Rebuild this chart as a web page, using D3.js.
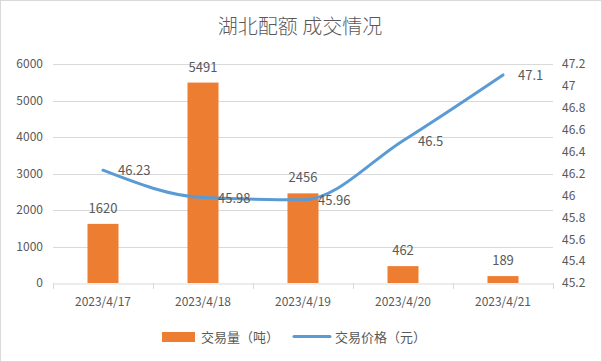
<!DOCTYPE html>
<html>
<head>
<meta charset="utf-8">
<script src="https://cdn.jsdelivr.net/npm/d3@7"></script>
<style>
  body { margin: 0; background: #fff; }
  text { font-family: "Noto Sans CJK SC", "Noto Sans", sans-serif; fill: #595959; }
</style>
</head>
<body>
<div id="chart"></div>
<script>
var dates = ['2023/4/17', '2023/4/18', '2023/4/19', '2023/4/20', '2023/4/21']
var volume = [1620, 5491, 2456, 462, 189]
var price = [46.23, 45.98, 45.96, 46.5, 47.1]
var leftTicks = [0, 1000, 2000, 3000, 4000, 5000, 6000]
var rightTicks = [45.2, 45.4, 45.6, 45.8, 46, 46.2, 46.4, 46.6, 46.8, 47, 47.2]

var width = 602, height = 362,
    margin = {top: 64, bottom: 79, left: 53, right: 49}

var barColor = '#ED7D31', lineColor = '#5B9BD5', gridColor = '#d9d9d9'

var svg = d3.select('#chart').append('svg').attr('width', width).attr('height', height)

// 外框
svg.append('rect').attr('x', 0.5).attr('y', 0.5).attr('width', width - 1).attr('height', height - 1)
  .attr('fill', '#fff').attr('stroke', gridColor)

var x = d3.scaleBand().domain(dates).range([margin.left, width - margin.right])
var yL = d3.scaleLinear().domain([0, 6000]).range([height - margin.bottom, margin.top])
var yR = d3.scaleLinear().domain([45.2, 47.2]).range([height - margin.bottom, margin.top])

// 标题
svg.append('text').attr('x', 300).attr('y', 34).attr('text-anchor', 'middle')
  .attr('font-size', 20).attr('font-weight', 300).text('湖北配额 成交情况')

// 网格线
svg.append('g').selectAll('line').data(leftTicks.slice(1)).enter().append('line')
  .attr('x1', margin.left).attr('x2', width - margin.right)
  .attr('y1', d => Math.round(yL(d)) + 0.5).attr('y2', d => Math.round(yL(d)) + 0.5)
  .attr('stroke', gridColor)

// 左轴
var axisL = d3.axisLeft(yL).tickValues(leftTicks).tickSize(0).tickPadding(10).tickFormat(d3.format('d'))
var gL = svg.append('g').attr('transform', 'translate(' + margin.left + ',0)').call(axisL)
gL.select('.domain').remove()
gL.selectAll('text').attr('font-size', 12).attr('fill', '#595959')

// 右轴
var axisR = d3.axisRight(yR).tickValues(rightTicks).tickSize(0).tickPadding(9).tickFormat(d3.format('~g'))
var gR = svg.append('g').attr('transform', 'translate(' + (width - margin.right) + ',0)').call(axisR)
gR.select('.domain').remove()
gR.selectAll('text').attr('font-size', 12).attr('fill', '#595959')

// x轴
var axisB = d3.axisBottom(x).tickSize(0).tickPadding(14)
var gB = svg.append('g').attr('transform', 'translate(0,' + (Math.round(yL(0)) + 0.5) + ')').call(axisB)
gB.select('.domain').attr('stroke', gridColor)
gB.selectAll('text').attr('font-size', 12).attr('fill', '#595959')
// 分隔刻度
var bounds = dates.map(d => x(d)).concat([width - margin.right])
svg.append('g').selectAll('line').data(bounds).enter().append('line')
  .attr('x1', d => Math.round(d) + 0.5).attr('x2', d => Math.round(d) + 0.5)
  .attr('y1', Math.round(yL(0))).attr('y2', Math.round(yL(0)) + 6)
  .attr('stroke', gridColor)

// 柱状图
var barW = 31
svg.append('g').selectAll('rect').data(volume).enter().append('rect')
  .attr('x', (d, i) => x(dates[i]) + x.bandwidth() / 2 - barW / 2)
  .attr('y', d => yL(d))
  .attr('width', barW)
  .attr('height', d => yL(0) - yL(d))
  .attr('fill', barColor)

svg.append('g').selectAll('text').data(volume).enter().append('text')
  .attr('x', (d, i) => x(dates[i]) + x.bandwidth() / 2)
  .attr('y', d => yL(d) - 11)
  .attr('text-anchor', 'middle').attr('font-size', 13).attr('fill', '#404040')
  .text(d => d)

// 折线
var line = d3.line()
  .x((d, i) => x(dates[i]) + x.bandwidth() / 2)
  .y(d => yR(d))
  .curve(d3.curveMonotoneX)
svg.append('path').datum(price).attr('d', line)
  .attr('fill', 'none').attr('stroke', lineColor).attr('stroke-width', 3)
  .attr('stroke-linecap', 'round').attr('stroke-linejoin', 'round')

svg.append('g').selectAll('text').data(price).enter().append('text')
  .attr('x', (d, i) => x(dates[i]) + x.bandwidth() / 2 + 15)
  .attr('y', d => yR(d) + 5)
  .attr('font-size', 13).attr('fill', '#404040')
  .text(d => d)

// 图例
var legend = svg.append('g')
legend.append('rect').attr('x', 162).attr('y', 332).attr('width', 33).attr('height', 10).attr('fill', barColor)
legend.append('text').attr('x', 201).attr('y', 342).attr('font-size', 13).text('交易量（吨）')
legend.append('line').attr('x1', 294).attr('x2', 330).attr('y1', 336.5).attr('y2', 336.5)
  .attr('stroke', lineColor).attr('stroke-width', 3).attr('stroke-linecap', 'round')
legend.append('text').attr('x', 335).attr('y', 342).attr('font-size', 13).text('交易价格（元）')
</script>
</body>
</html>
